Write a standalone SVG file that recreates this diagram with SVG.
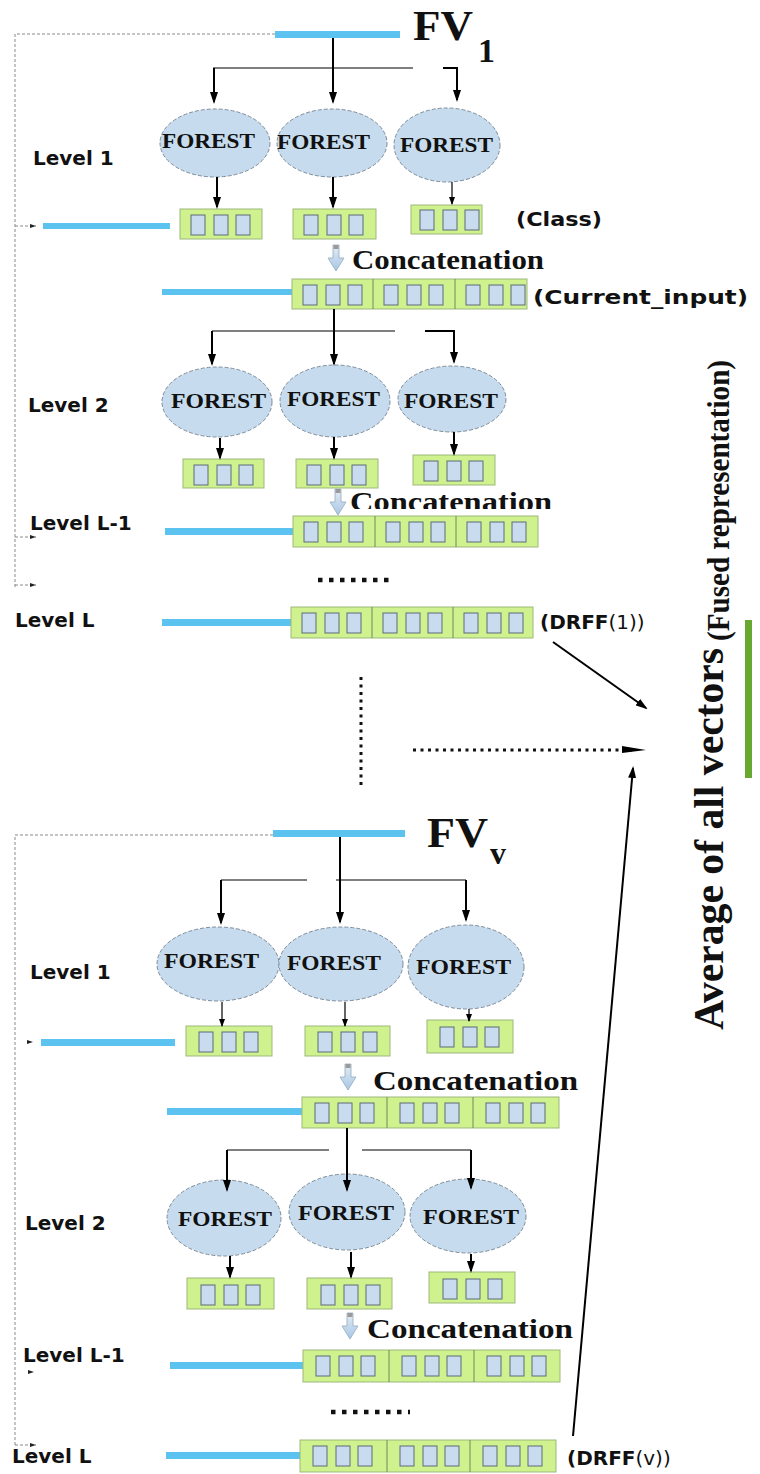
<svg xmlns="http://www.w3.org/2000/svg" xmlns:xlink="http://www.w3.org/1999/xlink" width="760" height="1474" viewBox="0 0 760 1474">
  <style>
    .bar{fill:#5cc2f0}
    .vbox{fill:#cff28f;stroke:#9db77a;stroke-width:1}
    .div{stroke:#6f8a5c;stroke-width:1}
    .cell{fill:#c9dbee;stroke:#5f6b78;stroke-width:1}
    .forest{fill:#c6dcee;stroke:#7d8b99;stroke-width:1;stroke-dasharray:4 2}
    .ftxt{font-family:"Liberation Serif",serif;font-weight:bold;font-size:22px;fill:#111}
    .lvl{font-family:"DejaVu Sans",sans-serif;font-weight:bold;font-size:20px;fill:#111}
    .tag{font-family:"DejaVu Sans",sans-serif;font-weight:bold;font-size:20px;fill:#111}
    .tagn{font-weight:normal}
    .cat{font-family:"Liberation Serif",serif;font-weight:bold;font-size:27px;fill:#111}
    .fv{font-family:"Liberation Serif",serif;font-weight:bold;fill:#111}
    .conn{stroke:#000;stroke-width:2;fill:none}
    .thin{stroke:#000;stroke-width:1.2;fill:none}
    .frame{stroke:#8a8a8a;stroke-width:1;stroke-dasharray:3 2;fill:none}
    .dots{stroke:#111;stroke-width:4.5;stroke-dasharray:4.5 6.5;fill:none}
    .fine{stroke:#111;stroke-width:3;stroke-dasharray:3 4.5;fill:none}
    .cat-arrow{fill:url(#catGrad);stroke:#93aac0;stroke-width:0.8}
    .side{font-family:"Liberation Serif",serif;font-weight:bold;fill:#111}
  </style>
  <defs>
    <marker id="ah" viewBox="0 0 12 8" refX="10" refY="4" markerWidth="12" markerHeight="8" markerUnits="userSpaceOnUse" orient="auto">
      <path d="M0,0 L12,4 L0,8 z" fill="#000"/>
    </marker>
    <marker id="ahs" viewBox="0 0 8 6" refX="7" refY="3" markerWidth="8" markerHeight="6" markerUnits="userSpaceOnUse" orient="auto">
      <path d="M0,0 L8,3 L0,6 z" fill="#000"/>
    </marker>
    <marker id="tick" viewBox="0 0 6 4" refX="6" refY="2" markerWidth="6" markerHeight="4" markerUnits="userSpaceOnUse" orient="auto">
      <path d="M0,0 L6,2 L0,4 z" fill="#222"/>
    </marker>
    <linearGradient id="catGrad" x1="0" y1="0" x2="0" y2="1">
      <stop offset="0" stop-color="#e4edf5"/>
      <stop offset="1" stop-color="#a8c6e4"/>
    </linearGradient>
    <!-- three value cells of one class vector -->
    <g id="tri">
      <rect class="cell" x="11" y="6" width="14" height="20"/>
      <rect class="cell" x="34" y="6" width="14" height="20"/>
      <rect class="cell" x="56" y="6" width="14" height="20"/>
    </g>
    <!-- hollow down arrow used before each concatenation -->
    <g id="catArrow">
      <path class="cat-arrow" d="M-3,0 h6 v13 h5 l-8,13 l-8,-13 h5 z"/>
      <rect x="-2.5" y="0" width="5" height="4" fill="#9a9a9a"/>
    </g>
    <clipPath id="cut1"><rect x="340" y="470" width="230" height="39"/></clipPath>
  </defs>

  <!-- ===================== view 1 ===================== -->
  <g id="frame1">
    <path class="frame" d="M275,34 H15 V587"/>
    <path class="frame" d="M15,226 H36" marker-end="url(#tick)"/>
    <path class="frame" d="M15,537 H36" marker-end="url(#tick)"/>
    <path class="frame" d="M15,585 H36" marker-end="url(#tick)"/>
  </g>

  <g id="input1">
    <rect class="bar" x="275" y="31" width="125" height="7"/>
    <text class="fv" x="413" y="40" font-size="43" textLength="60" lengthAdjust="spacingAndGlyphs">FV</text>
    <text class="fv" x="478" y="62" font-size="34">1</text>
  </g>

  <g id="v1-level1">
    <text class="lvl" x="33" y="165">Level 1</text>
    <g id="v1-l1-f1"><ellipse class="forest" cx="215" cy="143" rx="55" ry="34"/><text class="ftxt" x="162" y="148" textLength="93" lengthAdjust="spacingAndGlyphs">FOREST</text></g>
    <g id="v1-l1-f2"><ellipse class="forest" cx="332" cy="143" rx="55" ry="34"/><text class="ftxt" x="277" y="149" textLength="93" lengthAdjust="spacingAndGlyphs">FOREST</text></g>
    <g id="v1-l1-f3"><ellipse class="forest" cx="447" cy="145" rx="53" ry="37"/><text class="ftxt" x="400" y="152" textLength="93" lengthAdjust="spacingAndGlyphs">FOREST</text></g>
    <g id="v1-l1-c1"><rect class="vbox" x="180" y="209" width="82" height="30"/><use href="#tri" x="180" y="209"/></g>
    <g id="v1-l1-c2"><rect class="vbox" x="293" y="209" width="83" height="30"/><use href="#tri" x="293" y="209"/></g>
    <g id="v1-l1-c3"><rect class="vbox" x="411" y="205" width="71" height="29"/><use href="#tri" x="409" y="204"/></g>
    <rect class="bar" x="43" y="223" width="127" height="6"/>
    <text class="tag" x="516" y="226" textLength="86" lengthAdjust="spacingAndGlyphs">(Class)</text>
  </g>

  <g id="v1-concat1">
    <use href="#catArrow" x="336" y="245"/>
    <text class="cat" x="352" y="269" textLength="192" lengthAdjust="spacingAndGlyphs">Concatenation</text>
    <rect class="bar" x="162" y="289" width="130" height="6"/>
    <rect class="vbox" x="292" y="279" width="235" height="30"/>
    <line class="div" x1="373" y1="279" x2="373" y2="309"/>
    <line class="div" x1="455" y1="279" x2="455" y2="309"/>
    <use href="#tri" x="292" y="279"/><use href="#tri" x="373" y="279"/><use href="#tri" x="455" y="279"/>
    <text class="tag" x="533" y="304" textLength="215" lengthAdjust="spacingAndGlyphs">(Current_input)</text>
  </g>

  <g id="v1-level2">
    <text class="lvl" x="28" y="412">Level 2</text>
    <g id="v1-l2-f1"><ellipse class="forest" cx="217" cy="402" rx="55" ry="35"/><text class="ftxt" x="171" y="408" textLength="95" lengthAdjust="spacingAndGlyphs">FOREST</text></g>
    <g id="v1-l2-f2"><ellipse class="forest" cx="335" cy="401" rx="55" ry="36"/><text class="ftxt" x="287" y="406" textLength="93" lengthAdjust="spacingAndGlyphs">FOREST</text></g>
    <g id="v1-l2-f3"><ellipse class="forest" cx="452" cy="399" rx="54" ry="33"/><text class="ftxt" x="404" y="408" textLength="94" lengthAdjust="spacingAndGlyphs">FOREST</text></g>
    <g id="v1-l2-c1"><rect class="vbox" x="183" y="459" width="81" height="29"/><use href="#tri" x="183" y="459"/></g>
    <g id="v1-l2-c2"><rect class="vbox" x="296" y="459" width="82" height="29"/><use href="#tri" x="296" y="459"/></g>
    <g id="v1-l2-c3"><rect class="vbox" x="413" y="455" width="82" height="30"/><use href="#tri" x="413" y="455"/></g>
  </g>

  <g id="v1-concat2">
    <use href="#catArrow" x="338" y="489"/>
    <text class="cat" x="350" y="511" textLength="202" lengthAdjust="spacingAndGlyphs" clip-path="url(#cut1)">Concatenation</text>
  </g>

  <g id="v1-levelL1">
    <text class="lvl" x="30" y="530">Level L-1</text>
    <rect class="bar" x="165" y="528" width="128" height="7"/>
    <rect class="vbox" x="293" y="516" width="245" height="31"/>
    <line class="div" x1="375" y1="516" x2="375" y2="547"/>
    <line class="div" x1="456" y1="516" x2="456" y2="547"/>
    <use href="#tri" x="293" y="516"/><use href="#tri" x="375" y="516"/><use href="#tri" x="456" y="516"/>
  </g>

  <line class="dots" x1="318" y1="580" x2="395" y2="580"/>

  <g id="v1-levelL">
    <text class="lvl" x="15" y="627">Level L</text>
    <rect class="bar" x="162" y="619" width="129" height="7"/>
    <rect class="vbox" x="291" y="607" width="242" height="31"/>
    <line class="div" x1="372" y1="607" x2="372" y2="638"/>
    <line class="div" x1="453" y1="607" x2="453" y2="638"/>
    <use href="#tri" x="291" y="607"/><use href="#tri" x="372" y="607"/><use href="#tri" x="453" y="607"/>
    <text class="tag" x="540" y="629">(DRFF<tspan class="tagn">(1))</tspan></text>
  </g>

  <!-- ===================== view v ===================== -->
  <g id="frame2">
    <path class="frame" d="M273,835 H15 V1445"/>
    <path class="frame" d="M15,1445 H36" marker-end="url(#tick)"/>
    <path d="M27,1040 L33,1042 L27,1044 z" fill="#222"/>
    <path d="M28,1370 L34,1372 L28,1374 z" fill="#222"/>
  </g>

  <g id="input2">
    <rect class="bar" x="273" y="830" width="132" height="7"/>
    <text class="fv" x="427" y="847" font-size="43" textLength="61" lengthAdjust="spacingAndGlyphs">FV</text>
    <text class="fv" x="490" y="864" font-size="32">v</text>
  </g>

  <g id="v2-level1">
    <text class="lvl" x="30" y="979">Level 1</text>
    <g id="v2-l1-f1"><ellipse class="forest" cx="218" cy="964" rx="61" ry="37"/><text class="ftxt" x="164" y="968" textLength="95" lengthAdjust="spacingAndGlyphs">FOREST</text></g>
    <g id="v2-l1-f2"><ellipse class="forest" cx="341" cy="964" rx="62" ry="37"/><text class="ftxt" x="287" y="970" textLength="94" lengthAdjust="spacingAndGlyphs">FOREST</text></g>
    <g id="v2-l1-f3"><ellipse class="forest" cx="466" cy="967" rx="58" ry="42"/><text class="ftxt" x="416" y="974" textLength="95" lengthAdjust="spacingAndGlyphs">FOREST</text></g>
    <g id="v2-l1-c1"><rect class="vbox" x="186" y="1026" width="86" height="30"/><use href="#tri" x="188" y="1026"/></g>
    <g id="v2-l1-c2"><rect class="vbox" x="305" y="1026" width="85" height="30"/><use href="#tri" x="307" y="1026"/></g>
    <g id="v2-l1-c3"><rect class="vbox" x="427" y="1020" width="86" height="33"/><use href="#tri" x="429" y="1021"/></g>
    <rect class="bar" x="41" y="1039" width="134" height="7"/>
  </g>

  <g id="v2-concat1">
    <use href="#catArrow" x="348" y="1064"/>
    <text class="cat" x="373" y="1090" textLength="205" lengthAdjust="spacingAndGlyphs">Concatenation</text>
    <rect class="bar" x="167" y="1108" width="135" height="7"/>
    <rect class="vbox" x="302" y="1097" width="257" height="31"/>
    <line class="div" x1="387" y1="1097" x2="387" y2="1128"/>
    <line class="div" x1="473" y1="1097" x2="473" y2="1128"/>
    <use href="#tri" x="304" y="1097"/><use href="#tri" x="389" y="1097"/><use href="#tri" x="475" y="1097"/>
  </g>

  <g id="v2-level2">
    <text class="lvl" x="25" y="1230">Level 2</text>
    <g id="v2-l2-f1"><ellipse class="forest" cx="224" cy="1218" rx="57" ry="38"/><text class="ftxt" x="178" y="1226" textLength="94" lengthAdjust="spacingAndGlyphs">FOREST</text></g>
    <g id="v2-l2-f2"><ellipse class="forest" cx="347" cy="1212" rx="58" ry="38"/><text class="ftxt" x="298" y="1220" textLength="96" lengthAdjust="spacingAndGlyphs">FOREST</text></g>
    <g id="v2-l2-f3"><ellipse class="forest" cx="468" cy="1216" rx="58" ry="37"/><text class="ftxt" x="423" y="1224" textLength="96" lengthAdjust="spacingAndGlyphs">FOREST</text></g>
    <g id="v2-l2-c1"><rect class="vbox" x="187" y="1278" width="87" height="31"/><use href="#tri" x="190" y="1279"/></g>
    <g id="v2-l2-c2"><rect class="vbox" x="307" y="1278" width="85" height="31"/><use href="#tri" x="310" y="1279"/></g>
    <g id="v2-l2-c3"><rect class="vbox" x="429" y="1272" width="86" height="31"/><use href="#tri" x="432" y="1273"/></g>
  </g>

  <g id="v2-concat2">
    <use href="#catArrow" x="350" y="1313"/>
    <text class="cat" x="367" y="1338" textLength="206" lengthAdjust="spacingAndGlyphs">Concatenation</text>
  </g>

  <g id="v2-levelL1">
    <text class="lvl" x="23" y="1362">Level L-1</text>
    <rect class="bar" x="170" y="1362" width="133" height="7"/>
    <rect class="vbox" x="303" y="1350" width="257" height="32"/>
    <line class="div" x1="389" y1="1350" x2="389" y2="1382"/>
    <line class="div" x1="474" y1="1350" x2="474" y2="1382"/>
    <use href="#tri" x="305" y="1350"/><use href="#tri" x="391" y="1350"/><use href="#tri" x="476" y="1350"/>
  </g>

  <line class="dots" x1="331" y1="1412" x2="410" y2="1412"/>

  <g id="v2-levelL">
    <text class="lvl" x="12" y="1463">Level L</text>
    <rect class="bar" x="166" y="1452" width="134" height="7"/>
    <rect class="vbox" x="300" y="1440" width="256" height="32"/>
    <line class="div" x1="387" y1="1440" x2="387" y2="1472"/>
    <line class="div" x1="470" y1="1440" x2="470" y2="1472"/>
    <use href="#tri" x="302" y="1440"/><use href="#tri" x="389" y="1440"/><use href="#tri" x="472" y="1440"/>
    <text class="tag" x="567" y="1465">(DRFF<tspan class="tagn">(v))</tspan></text>
  </g>

  <!-- ===================== fused output ===================== -->
  <g id="fused">
    <rect x="745" y="620" width="7" height="158" fill="#68a830"/>
    <text class="side" font-size="42" transform="translate(723,1030) rotate(-90)" textLength="382" lengthAdjust="spacingAndGlyphs">Average of all vectors</text>
    <text class="side" font-size="32" transform="translate(729,641) rotate(-90)" textLength="281" lengthAdjust="spacingAndGlyphs">(Fused representation)</text>
  </g>

  <!-- ===================== connectors ===================== -->
  <g id="connectors">
    <!-- view 1, level 1 fan-out -->
    <path class="conn" d="M333,38 V102" marker-end="url(#ah)"/>
    <path class="thin" d="M213,68 H413"/>
    <path class="conn" d="M214,68 V102" marker-end="url(#ah)"/>
    <path class="conn" d="M443,68 H457 V100" marker-end="url(#ah)"/>
    <path class="conn" d="M217,177 V207" marker-end="url(#ah)"/>
    <path class="conn" d="M333,177 V207" marker-end="url(#ah)"/>
    <path class="thin" d="M452,182 V204" marker-end="url(#ahs)"/>
    <!-- view 1, level 2 fan-out -->
    <path class="conn" d="M334,309 V364" marker-end="url(#ah)"/>
    <path class="thin" d="M212,331 H395"/>
    <path class="conn" d="M212,331 V364" marker-end="url(#ah)"/>
    <path class="conn" d="M425,331 H454 V362" marker-end="url(#ah)"/>
    <path class="conn" d="M220,438 V458" marker-end="url(#ah)"/>
    <path class="conn" d="M334,437 V458" marker-end="url(#ah)"/>
    <path class="conn" d="M454,432 V454" marker-end="url(#ah)"/>
    <!-- view v, level 1 fan-out -->
    <path class="conn" d="M340,837 V922" marker-end="url(#ah)"/>
    <path class="thin" d="M221,880 H307 M336,880 H466"/>
    <path class="conn" d="M221,880 V923" marker-end="url(#ah)"/>
    <path class="conn" d="M466,880 V920" marker-end="url(#ah)"/>
    <path class="thin" d="M222,1002 V1026" marker-end="url(#ahs)"/>
    <path class="thin" d="M345,1002 V1026" marker-end="url(#ahs)"/>
    <path class="thin" d="M469,1009 V1021" marker-end="url(#ahs)"/>
    <!-- view v, level 2 fan-out -->
    <path class="conn" d="M347,1128 V1190" marker-end="url(#ah)"/>
    <path class="thin" d="M227,1150 H329 M362,1150 H471"/>
    <path class="conn" d="M227,1150 V1190" marker-end="url(#ah)"/>
    <path class="conn" d="M471,1150 V1188" marker-end="url(#ah)"/>
    <path class="conn" d="M230,1256 V1277" marker-end="url(#ah)"/>
    <path class="conn" d="M351,1252 V1277" marker-end="url(#ah)"/>
    <path class="conn" d="M471,1254 V1271" marker-end="url(#ah)"/>
    <!-- views into the fused vector -->
    <path class="conn" d="M553,642 L646,708" marker-end="url(#ah)"/>
    <path class="fine" d="M361,677 V785"/>
    <path class="fine" d="M413,750 H632"/>
    <path d="M622,746 L646,750 L622,753 z" fill="#000"/>
    <path class="conn" d="M573,1436 L633,768" marker-end="url(#ah)"/>
  </g>
</svg>
